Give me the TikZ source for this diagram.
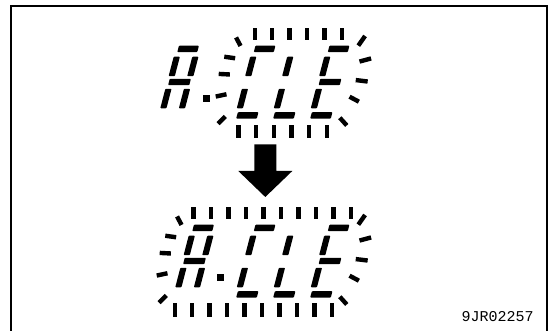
\documentclass[tikz,border=0pt]{standalone}
\usepackage{fontspec}
\newfontfamily\codefont{Liberation Mono}
\newcommand\sTop{\fill[seg] (-10,-36.3) rectangle (10,-29.9);}
\newcommand\sMid{\fill[seg] (-10.6,-3.2) rectangle (10.6,3.2);}
\newcommand\sBot{\fill[seg] (-10.3,30.2) rectangle (10.3,36.6);}
\newcommand\sUL{\fill[seg] (-12.4,-25.3) rectangle (-6.2,-5.8);}
\newcommand\sUR{\fill[seg] (6.2,-25.3) rectangle (12.4,-5.8);}
\newcommand\sLL{\fill[seg] (-12.4,6.8) rectangle (-6.2,26.3);}
\newcommand\sLR{\fill[seg] (6.2,6.8) rectangle (12.4,26.3);}
\newcommand\digit[3]{\begin{scope}[shift={(#1,#2)},xslant=0.26] #3 \end{scope}}
\newcommand\glA{\sTop\sUL\sUR\sMid\sLL\sLR}
\newcommand\glC{\sTop\sUL\sLL\sBot}
\newcommand\glL{\sUL\sLL\sBot}
\newcommand\glE{\sTop\sUL\sMid\sLL\sBot}
\newcommand\ray[4]{\draw[ray,shift={(#1,#2)}] (#3:#4) -- (#3+180:#4);}
\newcommand\leftrays{%
  \ray{238.3}{41.7}{62}{4.8}
  \ray{229.7}{57.5}{8}{5.5}
  \ray{224.3}{74.2}{3}{5.6}
  \ray{221.1}{95.4}{-12}{5.5}
  \ray{221.7}{120}{-45}{5.1}}
\newcommand\rightrays{%
  \ray{361.7}{40.8}{-55}{5.9}
  \ray{365.3}{60}{-15}{6}
  \ray{361.7}{80.8}{7}{6}
  \ray{354.2}{99.2}{28}{5.3}
  \ray{343.3}{121.6}{48}{5.2}}
\begin{document}
\begin{tikzpicture}[x=1pt,y=-1pt,
  seg/.style={fill=black,rounded corners=0.8pt},
  ray/.style={line width=4.4pt,black},
  frame/.style={line width=1.4pt,black}]
\useasboundingbox (0,0) rectangle (554,331);
\draw[frame] (11,345) -- (11,6.2) -- (546.8,6.2) -- (546.8,345);
% ---------- upper display ----------
\digit{179.5}{82}{\glA}
\fill (202.5,94.8) rectangle (210,101.8);
\digit{256}{82}{\glC}
\digit{293}{82}{\glL}
\digit{330}{82}{\glE}
\foreach \i in {0,...,5}{\ray{254.7+17.46*\i}{33.9}{90}{6.1}}
\foreach \i in {0,...,5}{\ray{238.4+17.66*\i}{131.3}{90}{6.3}}
\leftrays
\rightrays
% ---------- arrow ----------
\fill (254.3,144.5) -- (276.4,144.5) -- (276.4,171) -- (292.3,171)
  -- (265.3,197) -- (238.3,171) -- (254.3,171) -- cycle;
% ---------- lower display ----------
\digit{194.5}{261}{\glA}
\fill (216.8,274) rectangle (224.3,281);
\digit{256}{261}{\glC}
\digit{293}{261}{\glL}
\digit{330}{261}{\glE}
\foreach \i in {0,...,9}{\ray{193.5+17.5*\i}{212.7}{90}{6}}
\foreach \i in {0,...,9}{\ray{174.7+17.47*\i}{310}{90}{6.6}}
\begin{scope}[shift={(-59,179)}]\leftrays\end{scope}
\begin{scope}[shift={(0,179)}]\rightrays\end{scope}
% ---------- code ----------
\node[anchor=base west,inner sep=0pt,font=\codefont\fontsize{15}{15}\selectfont]
  (code) at (461.3,321.7) {9JR02257};
\end{tikzpicture}
\end{document}
